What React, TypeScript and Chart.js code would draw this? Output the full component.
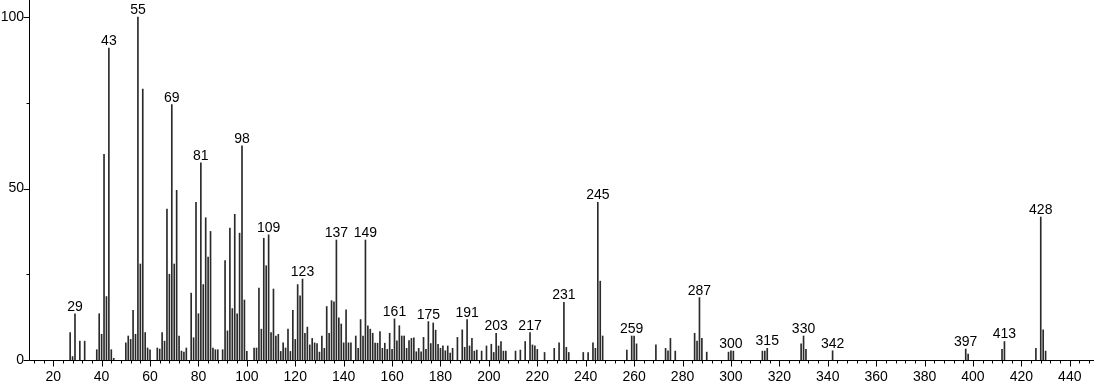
import React, { useEffect, useRef } from 'react';
import { Chart, registerables } from 'chart.js';

Chart.register(...registerables);

const masses = [
  27, 28, 29, 31, 33, 38, 39, 40, 41, 42, 43, 44, 45, 50, 51, 52, 53, 54, 55, 56, 57, 58, 59, 60,
  63, 64, 65, 66, 67, 68, 69, 70, 71, 72, 73, 74, 75, 77, 78, 79, 80, 81, 82, 83, 84, 85, 86, 87,
  88, 90, 91, 92, 93, 94, 95, 96, 97, 98, 99, 100, 103, 104, 105, 106, 107, 108, 109, 110, 111,
  112, 113, 114, 115, 116, 117, 118, 119, 120, 121, 122, 123, 124, 125, 126, 127, 128, 129, 130,
  131, 132, 133, 134, 135, 136, 137, 138, 139, 140, 141, 142, 143, 145, 146, 147, 148, 149, 150,
  151, 152, 153, 154, 155, 156, 157, 158, 159, 160, 161, 162, 163, 164, 165, 166, 167, 168, 169,
  170, 171, 172, 173, 174, 175, 176, 177, 178, 179, 180, 181, 182, 183, 184, 185, 187, 189, 190,
  191, 192, 193, 194, 195, 197, 199, 201, 202, 203, 204, 205, 206, 207, 211, 213, 215, 217, 218,
  219, 220, 223, 227, 229, 231, 232, 233, 239, 241, 243, 244, 245, 246, 247, 257, 259, 260, 261,
  269, 273, 274, 275, 277, 285, 286, 287, 288, 290, 299, 300, 301, 313, 314, 315, 329, 330, 331,
  342, 397, 398, 412, 413, 426, 428, 429, 430,
];

const intensities = [
  8, 1, 13.5, 5.5, 5.5, 3, 13.5, 7.5, 60, 18.5, 91, 3, 0.5, 5, 7, 6, 14.5, 7.5, 100, 28, 79, 8, 3.5, 3,
  3.5, 3.2, 8, 5.5, 44, 25, 74.5, 28, 49.5, 7, 2.6, 2.3, 3.5, 19.5, 6.5, 46, 13.5, 57.5, 22, 41.5, 30, 37.5, 3.5, 3,
  3, 3, 29, 8.5, 38.5, 15, 42.5, 13.5, 37, 62.5, 17.5, 2.5, 3.5, 3.5, 21, 9, 35.5, 27.5, 36.5, 8, 20.7,
  7, 7.5, 2.5, 5, 3.5, 9, 2.5, 14.5, 6, 22, 18.7, 23.6, 7.8, 9.6, 4.4, 6.3, 5, 4.8, 2.3,
  7, 3.4, 15.6, 7.8, 17.3, 17, 35, 12.3, 10.5, 5, 14.6, 5, 5, 7, 3.4, 11.8, 7, 35, 10,
  9, 7.8, 4.9, 4.9, 8.3, 3.4, 4.9, 3.1, 7.8, 3.1, 12, 5.6, 10, 7, 7, 3.4, 5.7, 6.3, 6.5,
  2.4, 3.4, 2.4, 6.6, 3.1, 11.2, 4.8, 10.8, 8.7, 4.6, 3.4, 4.1, 2.7, 4.1, 2, 3.4, 6.6, 8.8, 3.7,
  11.8, 4.1, 6.3, 2.6, 2.9, 2.6, 4.1, 4.6, 2.2, 7.8, 4.1, 5.4, 2.6, 2.6, 2.6, 2.9, 5.4, 8, 4.4,
  4.1, 3.1, 2.2, 3.4, 5, 16.8, 3.7, 2.2, 2.2, 2.2, 5, 3.4, 46, 23, 7, 2.9, 7, 7, 4.7,
  4.4, 3.4, 2.7, 6.3, 2.6, 7.8, 5.5, 18.2, 6.3, 2.3, 2.3, 2.7, 2.6, 2.6, 2.6, 3.4, 4.7, 7, 3.1,
  2.7, 3.2, 1.7, 3.1, 5.4, 3.4, 41.7, 8.8, 2.6,
];

const labeledMasses = [
  29, 43, 55, 69, 81, 98, 109, 123, 137, 149, 161, 175, 191, 203, 217, 231, 245, 259, 287, 300,
  315, 330, 342, 397, 413, 428,
];

const xTickLabels = [
  20, 40, 60, 80, 100, 120, 140, 160, 180, 200, 220, 240, 260, 280, 300, 320, 340, 360, 380, 400,
  420, 440,
];
const yTickLabels = [0, 50, 100];

const xMin = 10;
const xMax = 450;
const xMajorStep = 20;
const xMinorStep = 4;
const yMin = 0;
const yMax = 105;
const yMajorStep = 50;
const yMinorStep = 25;

const FONT = '"Liberation Sans", Arial, Helvetica, sans-serif';

const decorPlugin = {
  id: 'decor',
  afterDraw(chart: any) {
    const { ctx, chartArea, scales } = chart;
    const xs = scales.x;
    const ys = scales.y;
    const left = Math.round(chartArea.left) + 0.5;
    const bottom = Math.round(chartArea.bottom) + 0.5;
    ctx.save();
    ctx.strokeStyle = '#000';
    ctx.lineWidth = 1;
    ctx.beginPath();
    ctx.moveTo(left, chartArea.top);
    ctx.lineTo(left, bottom);
    ctx.lineTo(chartArea.right, bottom);
    for (let v = 12; v <= xMax; v += xMinorStep) {
      const px = Math.round(xs.getPixelForValue(v)) + 0.5;
      const len = v % xMajorStep === 0 ? 6 : 3;
      ctx.moveTo(px, bottom);
      ctx.lineTo(px, bottom + len);
    }
    for (let v = yMin; v <= 100; v += yMinorStep) {
      const py = Math.round(ys.getPixelForValue(v)) + 0.5;
      const len = v % yMajorStep === 0 ? 6 : 3;
      ctx.moveTo(left, py);
      ctx.lineTo(left - len, py);
    }
    ctx.stroke();

    const meta = chart.getDatasetMeta(0);
    ctx.fillStyle = '#000';
    ctx.font = `14px ${FONT}`;
    ctx.textAlign = 'center';
    ctx.textBaseline = 'alphabetic';
    labeledMasses.forEach((m) => {
      const idx = masses.indexOf(m);
      if (idx < 0) return;
      const el = meta.data[idx];
      if (!el) return;
      ctx.fillText(String(m), el.x, el.y - 3);
    });
    ctx.restore();
  },
};

export default function App() {
  const canvasRef = useRef<HTMLCanvasElement | null>(null);

  useEffect(() => {
    const canvas = canvasRef.current;
    if (!canvas) return;
    const chart = new Chart(canvas, {
      type: 'bar',
      data: {
        datasets: [
          {
            data: masses.map((m, i) => ({ x: m, y: intensities[i] })),
            backgroundColor: '#2a2a2a',
            borderWidth: 0,
            barThickness: 1,
          },
        ],
      },
      options: {
        animation: false,
        responsive: false,
        maintainAspectRatio: false,
        layout: { padding: 0 },
        plugins: {
          legend: { display: false },
          tooltip: { enabled: false },
          title: { display: false },
        },
        scales: {
          x: {
            type: 'linear',
            min: xMin,
            max: xMax,
            offset: false,
            position: 'bottom',
            grid: { display: false, drawTicks: false, offset: false },
            border: { display: false },
            afterBuildTicks(scale: any) {
              scale.ticks = xTickLabels.map((v) => ({ value: v }));
            },
            ticks: {
              autoSkip: false,
              maxRotation: 0,
              minRotation: 0,
              padding: 9,
              color: '#000',
              font: { family: FONT, size: 14 },
            },
            afterFit(scale: any) {
              scale.height = 24;
              scale.paddingLeft = 0;
              scale.paddingRight = 0;
            },
          },
          y: {
            type: 'linear',
            min: yMin,
            max: yMax,
            grid: { display: false, drawTicks: false },
            border: { display: false },
            afterBuildTicks(scale: any) {
              scale.ticks = yTickLabels.map((v) => ({ value: v }));
            },
            ticks: {
              padding: 5,
              color: '#000',
              font: { family: FONT, size: 14 },
            },
            afterFit(scale: any) {
              scale.width = 29;
              scale.paddingTop = 0;
              scale.paddingBottom = 0;
            },
          },
        },
      },
      plugins: [decorPlugin],
    });
    return () => {
      chart.destroy();
    };
  }, []);

  return (
    <div
      style={{
        position: 'fixed',
        left: 0,
        top: 0,
        width: 1094,
        height: 384,
        background: '#fff',
      }}
    >
      <canvas
        ref={canvasRef}
        width={1094}
        height={384}
        style={{ display: 'block', width: 1094, height: 384 }}
      />
    </div>
  );
}
